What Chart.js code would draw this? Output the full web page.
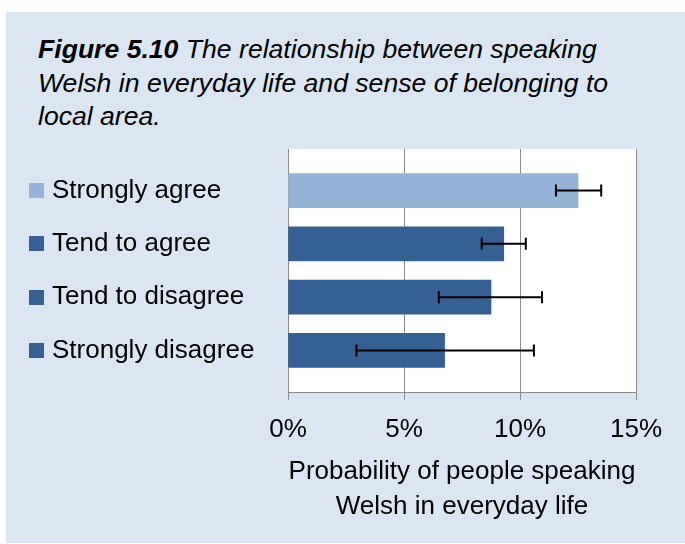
<!DOCTYPE html>
<html>
<head>
<meta charset="utf-8">
<script src="https://cdn.jsdelivr.net/npm/chart.js@4"></script>
<style>
  html, body { margin: 0; padding: 0; background: #ffffff; }
  body { width: 685px; height: 544px; position: relative; overflow: hidden; font-family: "Liberation Sans", Arial, sans-serif; }
  #panel { position: absolute; left: 6px; top: 12px; width: 679px; height: 531px; background: #dce6f2; }
  #title { position: absolute; left: 38px; top: 33px; font-size: 26.6px; line-height: 33.5px; font-style: italic; color: #000; white-space: nowrap; }
  #c { position: absolute; left: 0; top: 0; }
</style>
</head>
<body>
<div id="panel"></div>
<div id="title"><b>Figure 5.10</b> The relationship between speaking<br>Welsh in everyday life and sense of belonging to<br>local area.</div>
<canvas id="c" width="685" height="544"></canvas>
<script>
const categories = ['Strongly agree', 'Tend to agree', 'Tend to disagree', 'Strongly disagree'];
const values = [12.5, 9.3, 8.75, 6.75];
const errLow = [11.55, 8.35, 6.5, 2.95];
const errHigh = [13.5, 10.25, 10.95, 10.6];
const barColors = ['#95b3d7', '#376092', '#376092', '#376092'];
const xTicks = [0, 5, 10, 15];
const axisTitle = ['Probability of people speaking', 'Welsh in everyday life'];

const FONT = '"Liberation Sans", Arial, sans-serif';
const GRID = '#8c8c8c';

const plotBg = {
  id: 'plotBg',
  beforeDraw(chart) {
    const {ctx, chartArea: a} = chart;
    ctx.save();
    ctx.fillStyle = '#ffffff';
    ctx.fillRect(a.left, a.top, a.right - a.left, a.bottom - a.top);
    ctx.restore();
  }
};

const errorBars = {
  id: 'errorBars',
  afterDatasetsDraw(chart) {
    const {ctx, scales: {x, y}} = chart;
    ctx.save();
    ctx.strokeStyle = '#000000';
    ctx.lineWidth = 2;
    for (let i = 0; i < categories.length; i++) {
      const yp = y.getPixelForValue(i);
      const x1 = x.getPixelForValue(errLow[i]);
      const x2 = x.getPixelForValue(errHigh[i]);
      ctx.beginPath();
      ctx.moveTo(x1, yp); ctx.lineTo(x2, yp);
      ctx.moveTo(x1, yp - 6); ctx.lineTo(x1, yp + 6);
      ctx.moveTo(x2, yp - 6); ctx.lineTo(x2, yp + 6);
      ctx.stroke();
    }
    ctx.restore();
  }
};

const legendSquares = {
  id: 'legendSquares',
  afterDraw(chart) {
    const {ctx, scales: {y}} = chart;
    ctx.save();
    for (let i = 0; i < categories.length; i++) {
      const yp = y.getPixelForValue(i);
      ctx.fillStyle = barColors[i];
      ctx.fillRect(29, Math.round(yp - 7.5), 15, 15);
    }
    ctx.restore();
  }
};

new Chart(document.getElementById('c'), {
  type: 'bar',
  data: {
    datasets: [{
      data: values.map((v, i) => ({x: v, y: i})),
      backgroundColor: barColors,
      borderWidth: 0,
      barThickness: 34
    }]
  },
  options: {
    indexAxis: 'y',
    responsive: false,
    animation: false,
    devicePixelRatio: 1,
    layout: { padding: { top: 149, left: 52, right: 49, bottom: 20 } },
    plugins: { legend: { display: false }, tooltip: { enabled: false }, title: { display: false } },
    scales: {
      x: {
        type: 'linear',
        position: 'bottom',
        min: 0, max: 15,
        afterBuildTicks(scale) { scale.ticks = xTicks.map(v => ({value: v})); },
        afterFit(scale) { scale.height = 132; },
        ticks: {
          callback: v => v + '%',
          color: '#000000',
          font: { family: FONT, size: 26 },
          padding: 14,
          maxRotation: 0
        },
        grid: { color: GRID, lineWidth: 1, drawTicks: true, tickLength: 8, tickColor: GRID },
        border: { display: true, color: GRID, width: 1 },
        title: {
          display: true,
          text: axisTitle,
          color: '#000000',
          font: { family: FONT, size: 26, lineHeight: 1.35 },
          padding: { top: 4, bottom: 0 }
        }
      },
      y: {
        type: 'linear',
        position: 'left',
        reverse: true,
        offset: false,
        min: -0.78, max: 3.78,
        afterBuildTicks(scale) { scale.ticks = categories.map((c, i) => ({value: i})); },
        afterFit(scale) { scale.width = 236; },
        ticks: {
          callback: v => categories[v],
          crossAlign: 'far',
          color: '#000000',
          font: { family: FONT, size: 26 },
          padding: 0
        },
        grid: { display: false },
        border: { display: false }
      }
    }
  },
  plugins: [plotBg, errorBars, legendSquares]
});
</script>
</body>
</html>
